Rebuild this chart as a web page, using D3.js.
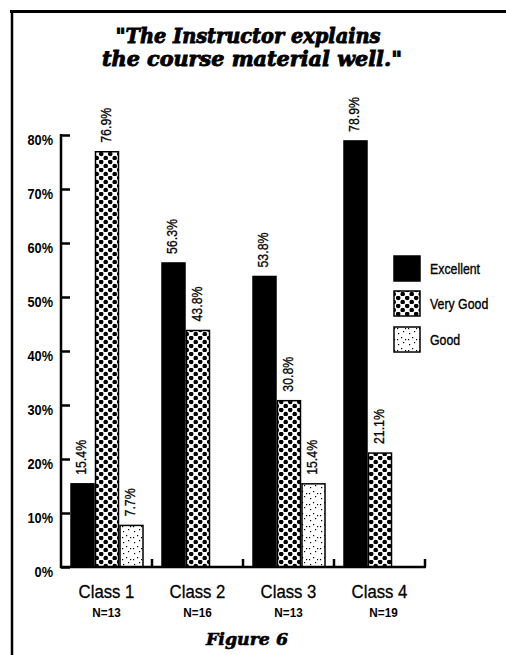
<!DOCTYPE html>
<html>
<head>
<meta charset="utf-8">
<script src="https://cdn.jsdelivr.net/npm/d3@7"></script>
<style>
  html, body { margin: 0; padding: 0; background: #fff; }
  svg { display: block; }
  .narrow { font-family: "Liberation Sans", Arial, sans-serif; }
</style>
</head>
<body>
<script>
// ---- data ----
const classes = ["Class 1", "Class 2", "Class 3", "Class 4"];
const nLabels = ["N=13", "N=16", "N=13", "N=19"];
const seriesNames = ["Excellent", "Very Good", "Good"];
const excellent = [15.4, 56.3, 53.8, 78.9];
const veryGood = [76.9, 43.8, 30.8, 21.1];
const good = [7.7, null, 15.4, null];
const yTicks = [0, 10, 20, 30, 40, 50, 60, 70, 80];
const titleLines = ["\"The Instructor explains", "the course material well.\""];
const caption = "Figure 6";

const W = 506, H = 655;
const svg = d3.select("body").append("svg").attr("width", W).attr("height", H);

// condense text horizontally (simulates a narrow face)
function condense(sel, f) {
  sel.each(function () {
    const len = this.getComputedTextLength();
    d3.select(this).attr("textLength", len * f).attr("lengthAdjust", "spacingAndGlyphs");
  });
}

// patterns
const defs = svg.append("defs");
const pVG = defs.append("pattern").attr("id", "pVG").attr("patternUnits", "userSpaceOnUse")
  .attr("width", 9).attr("height", 8);
pVG.append("rect").attr("width", 9).attr("height", 8).attr("fill", "#fff");
pVG.append("circle").attr("cx", 2.2).attr("cy", 2).attr("r", 2.3).attr("fill", "#000");
pVG.append("circle").attr("cx", 6.7).attr("cy", 6).attr("r", 2.3).attr("fill", "#000");

const pG = defs.append("pattern").attr("id", "pG").attr("patternUnits", "userSpaceOnUse")
  .attr("width", 11).attr("height", 11);
pG.append("rect").attr("width", 11).attr("height", 11).attr("fill", "#fff");
[[2,3],[7,1],[5,7],[9,9],[1,9]].forEach(([x,y]) =>
  pG.append("rect").attr("x", x).attr("y", y).attr("width", 1.2).attr("height", 1.2).attr("fill", "#000"));

const fills = ["#000", "url(#pVG)", "url(#pG)"];

// frame
svg.append("line").attr("x1", 10).attr("x2", W).attr("y1", 11.5).attr("y2", 11.5)
  .attr("stroke", "#000").attr("stroke-width", 3);
svg.append("line").attr("x1", 12).attr("x2", 12).attr("y1", 10).attr("y2", H)
  .attr("stroke", "#000").attr("stroke-width", 2.5);

// title
const title = svg.append("text").attr("text-anchor", "middle")
  .attr("font-family", "'DejaVu Serif', serif").attr("font-weight", "bold").attr("font-style", "italic")
  .attr("font-size", 20).attr("stroke", "#000").attr("stroke-width", 0.9);
title.append("tspan").attr("x", 248).attr("y", 43).attr("textLength", 265).attr("lengthAdjust", "spacingAndGlyphs").text(titleLines[0]);
title.append("tspan").attr("x", 252).attr("y", 66).attr("textLength", 300).attr("lengthAdjust", "spacingAndGlyphs").text(titleLines[1]);

// scales
const y = d3.scaleLinear().domain([0, 80]).range([567, 135]);
const x = d3.scaleBand().domain(classes).range([61, 425]).paddingInner(0).paddingOuter(0);
const barW = 23, barStep = 24.5, barOff = 10;

// y axis
const yAxis = d3.axisLeft(y).tickValues(yTicks).tickFormat(d => d + "%").tickSize(-9).tickPadding(8);
const gy = svg.append("g").attr("transform", "translate(61,0)").call(yAxis);
gy.select(".domain").remove();
gy.selectAll(".tick line").attr("stroke", "#000").attr("stroke-width", 2.5);
gy.selectAll(".tick text").attr("class", "narrow").attr("font-size", 15).attr("font-weight", "bold")
  .attr("fill", "#000").attr("dy", "0.6em").call(condense, 0.85);
svg.append("line").attr("x1", 61).attr("x2", 61).attr("y1", y(80) - 1).attr("y2", y(0) + 1)
  .attr("stroke", "#000").attr("stroke-width", 2.5);

// bars
const seriesVals = [excellent, veryGood, good];
const gBars = svg.append("g");
classes.forEach((c, i) => {
  seriesVals.forEach((vals, s) => {
    const v = vals[i];
    if (v == null) return;
    const bx = x(c) + barOff + s * barStep;
    gBars.append("rect").attr("x", bx).attr("y", y(v)).attr("width", barW).attr("height", y(0) - y(v))
      .attr("fill", fills[s]).attr("stroke", "#000").attr("stroke-width", 1.5);
    gBars.append("text").attr("class", "narrow").attr("font-size", 14)
      .attr("stroke", "#000").attr("stroke-width", 0.3)
      .attr("transform", `translate(${bx + barW / 2 - 1},${y(v) - 9}) rotate(-90)`)
      .attr("dy", "0.35em").attr("text-anchor", "start").text(v.toFixed(1) + "%").call(condense, 0.88);
  });
});

// x axis baseline and group ticks
svg.append("line").attr("x1", 60).attr("x2", 426).attr("y1", y(0)).attr("y2", y(0))
  .attr("stroke", "#000").attr("stroke-width", 2.5);
classes.forEach(c => {
  const ex = x(c) + x.bandwidth();
  svg.append("line").attr("x1", ex).attr("x2", ex).attr("y1", y(0)).attr("y2", y(0) - 8)
    .attr("stroke", "#000").attr("stroke-width", 2.5);
});

// class labels
classes.forEach((c, i) => {
  const cx = x(c) + x.bandwidth() / 2;
  svg.append("text").attr("class", "narrow").attr("x", cx).attr("y", 598).attr("text-anchor", "middle")
    .attr("font-size", 19).attr("stroke", "#000").attr("stroke-width", 0.3).text(c).call(condense, 0.88);
  svg.append("text").attr("class", "narrow").attr("x", cx + (i === 3 ? 4 : 0)).attr("y", 617).attr("text-anchor", "middle")
    .attr("font-size", 13).attr("font-weight", "bold").text(nLabels[i]).call(condense, 0.9);
});

// legend
const legY = [256, 291, 327];
seriesNames.forEach((n, s) => {
  svg.append("rect").attr("x", 394).attr("y", legY[s]).attr("width", 26).attr("height", 25)
    .attr("fill", fills[s]).attr("stroke", "#000").attr("stroke-width", 1.5);
  svg.append("text").attr("class", "narrow").attr("x", 430).attr("y", legY[s] + 12.5).attr("dy", "0.35em")
    .attr("font-size", 14.5).attr("stroke", "#000").attr("stroke-width", 0.35).text(n).call(condense, 0.85);
});

// caption
svg.append("text").attr("x", 247).attr("y", 645).attr("text-anchor", "middle")
  .attr("font-family", "'DejaVu Serif', serif").attr("font-weight", "bold").attr("font-style", "italic")
  .attr("font-size", 17).attr("stroke", "#000").attr("stroke-width", 0.6)
  .attr("textLength", 82).attr("lengthAdjust", "spacingAndGlyphs").text(caption);
</script>
</body>
</html>
